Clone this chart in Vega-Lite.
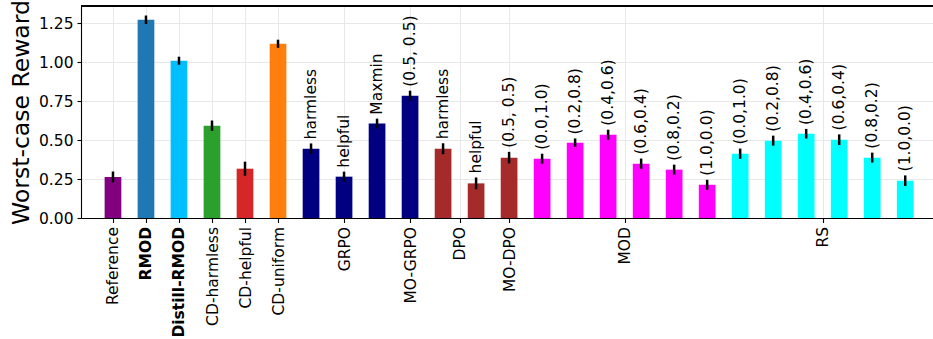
{
  "$schema": "https://vega.github.io/schema/vega-lite/v6.json",
  "width": 852,
  "height": 212,
  "autosize": {"type": "none"},
  "padding": {"left": 81, "top": 6, "right": 0, "bottom": 121},
  "background": "white",
  "config": {
    "view": {"stroke": null},
    "font": "DejaVu Sans",
    "axis": {
      "labelFont": "DejaVu Sans",
      "titleFont": "DejaVu Sans",
      "labelColor": "black",
      "titleColor": "black",
      "domainColor": "black",
      "tickColor": "black",
      "gridColor": "#e8e8e8",
      "gridWidth": 1,
      "domainWidth": 1.1,
      "tickWidth": 1.1
    }
  },
  "data": {
    "values": [
      {"method": "Reference", "label": "", "reward": 0.263, "err": 0.035},
      {"method": "RMOD", "label": "", "reward": 1.271, "err": 0.027},
      {"method": "Distill-RMOD", "label": "", "reward": 1.008, "err": 0.026},
      {"method": "CD-harmless", "label": "", "reward": 0.592, "err": 0.033},
      {"method": "CD-helpful", "label": "", "reward": 0.316, "err": 0.045},
      {"method": "CD-uniform", "label": "", "reward": 1.117, "err": 0.026},
      {"method": "GRPO", "label": "harmless", "reward": 0.444, "err": 0.034},
      {"method": "GRPO", "label": "helpful", "reward": 0.265, "err": 0.032},
      {"method": "GRPO", "label": "Maxmin", "reward": 0.605, "err": 0.032},
      {"method": "MO-GRPO", "label": "(0.5, 0.5)", "reward": 0.784, "err": 0.032},
      {"method": "DPO", "label": "harmless", "reward": 0.444, "err": 0.035},
      {"method": "DPO", "label": "helpful", "reward": 0.222, "err": 0.038},
      {"method": "MO-DPO", "label": "(0.5, 0.5)", "reward": 0.387, "err": 0.037},
      {"method": "MOD", "label": "(0.0,1.0)", "reward": 0.380, "err": 0.032},
      {"method": "MOD", "label": "(0.2,0.8)", "reward": 0.483, "err": 0.027},
      {"method": "MOD", "label": "(0.4,0.6)", "reward": 0.534, "err": 0.032},
      {"method": "MOD", "label": "(0.6,0.4)", "reward": 0.348, "err": 0.033},
      {"method": "MOD", "label": "(0.8,0.2)", "reward": 0.310, "err": 0.032},
      {"method": "MOD", "label": "(1.0,0.0)", "reward": 0.213, "err": 0.032},
      {"method": "RS", "label": "(0.0,1.0)", "reward": 0.412, "err": 0.033},
      {"method": "RS", "label": "(0.2,0.8)", "reward": 0.496, "err": 0.032},
      {"method": "RS", "label": "(0.4,0.6)", "reward": 0.540, "err": 0.031},
      {"method": "RS", "label": "(0.6,0.4)", "reward": 0.502, "err": 0.034},
      {"method": "RS", "label": "(0.8,0.2)", "reward": 0.387, "err": 0.032},
      {"method": "RS", "label": "(1.0,0.0)", "reward": 0.239, "err": 0.034}
    ]
  },
  "transform": [
    {"window": [{"op": "row_number", "as": "slot"}]},
    {"calculate": "datum.reward - datum.err", "as": "lo"},
    {"calculate": "datum.reward + datum.err", "as": "hi"}
  ],
  "encoding": {
    "x": {
      "field": "slot",
      "type": "quantitative",
      "scale": {"domain": [0.183, 25.69], "nice": false, "zero": false},
      "axis": {
        "title": null,
        "values": [1, 2, 3, 4, 5, 6, 8, 10, 11.5, 13, 16.5, 22.5],
        "labelExpr": "['Reference','RMOD','Distill-RMOD','CD-harmless','CD-helpful','CD-uniform','GRPO','MO-GRPO','DPO','MO-DPO','MOD','RS'][indexof([1,2,3,4,5,6,8,10,11.5,13,16.5,22.5], datum.value)]",
        "labelAngle": 270,
        "labelFontSize": 15.5,
        "labelFontWeight": {"condition": {"test": "datum.value == 2 || datum.value == 3", "value": "bold"}, "value": "normal"},
        "labelPadding": 4,
        "tickSize": 4.5,
        "grid": true,
        "labelOverlap": false,
        "labelBound": false,
        "labelFlush": false
      }
    }
  },
  "layer": [
    {
      "mark": {"type": "rule", "color": "black", "strokeWidth": 1.1},
      "encoding": {"y": {"datum": 1.359, "type": "quantitative"}, "x": null}
    },
    {
      "mark": {"type": "bar", "size": 16.7},
      "encoding": {
        "y": {
          "field": "reward",
          "type": "quantitative",
          "scale": {"domain": [0, 1.359], "nice": false},
          "axis": {
            "title": "Worst-case Reward",
            "titleFontSize": 23.5,
            "titleFontWeight": "normal",
            "titlePadding": 5,
            "values": [0, 0.25, 0.5, 0.75, 1, 1.25],
            "format": ".2f",
            "labelFontSize": 15.5,
            "labelPadding": 4,
            "tickSize": 4,
            "grid": true
          }
        },
        "color": {
          "field": "method",
          "type": "nominal",
          "legend": null,
          "scale": {
            "domain": ["Reference", "RMOD", "Distill-RMOD", "CD-harmless", "CD-helpful", "CD-uniform", "GRPO", "MO-GRPO", "DPO", "MO-DPO", "MOD", "RS"],
            "range": ["#800080", "#1f77b4", "#00bfff", "#2ca02c", "#d62728", "#ff7f0e", "#000080", "#000080", "#a52a2a", "#a52a2a", "#ff00ff", "#00ffff"]
          }
        }
      }
    },
    {
      "mark": {"type": "rule", "color": "black", "strokeWidth": 2.5},
      "encoding": {
        "y": {"field": "lo", "type": "quantitative"},
        "y2": {"field": "hi"}
      }
    },
    {
      "mark": {"type": "text", "angle": 270, "align": "left", "baseline": "middle", "dx": 4, "fontSize": 15.5, "color": "black"},
      "encoding": {
        "y": {"field": "hi", "type": "quantitative"},
        "text": {"field": "label"}
      }
    }
  ]
}
